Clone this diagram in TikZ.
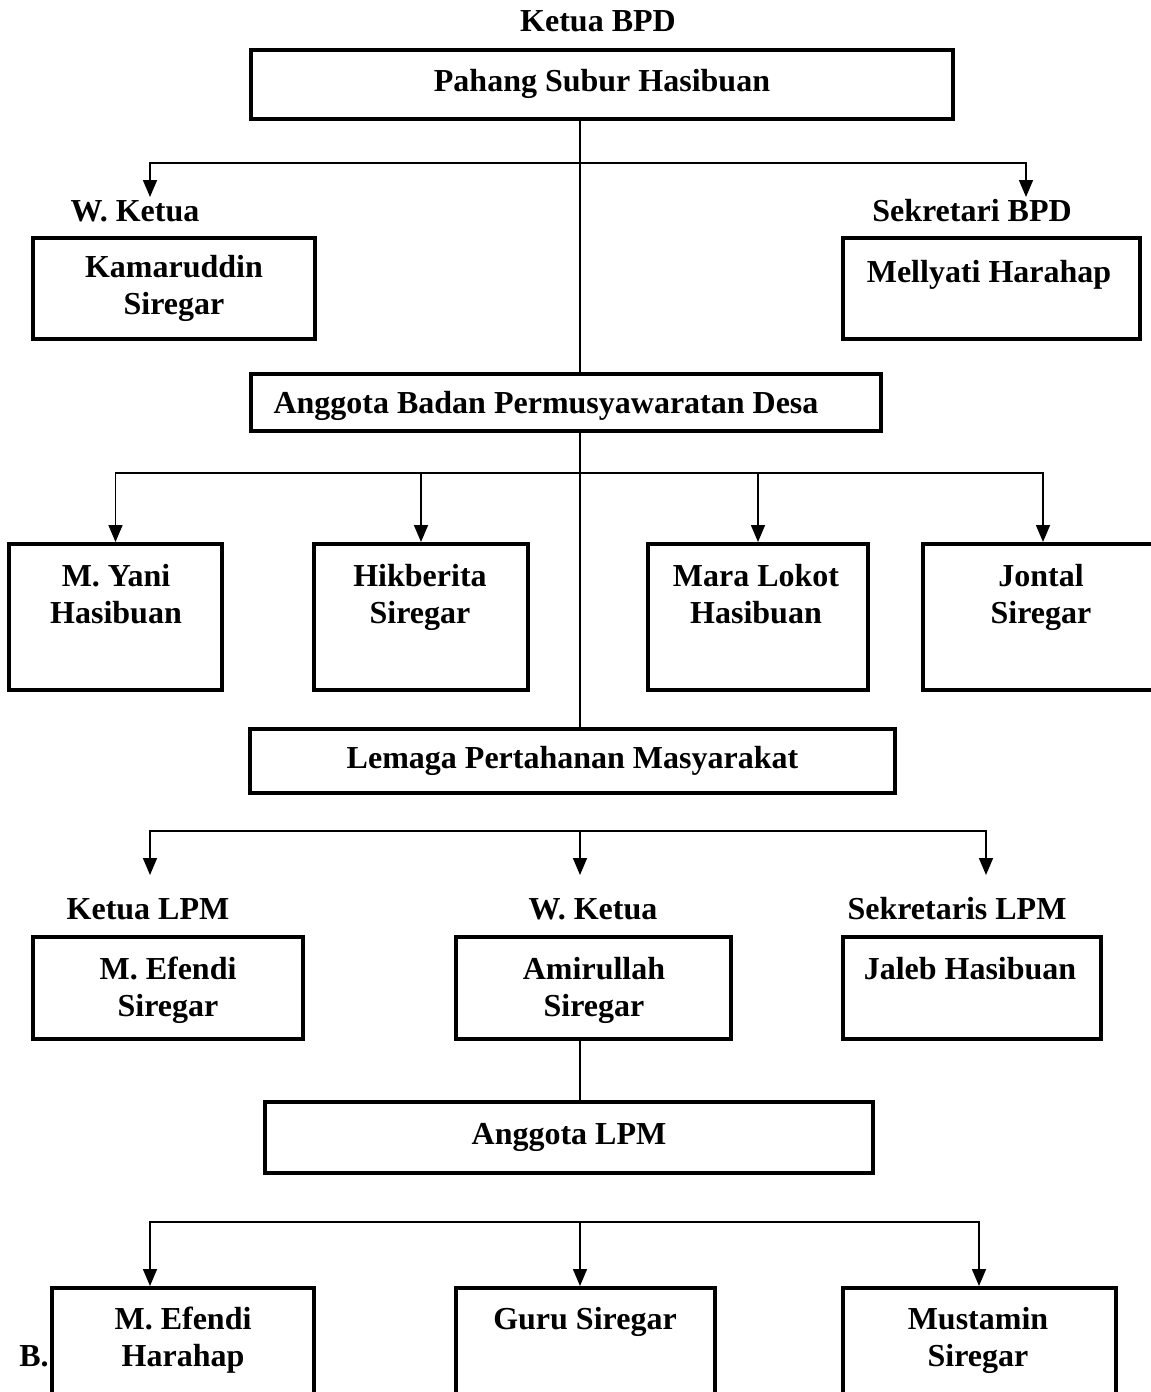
\documentclass[tikz,border=0pt]{standalone}
\usepackage{fontspec}
\setmainfont{Liberation Serif}
\usetikzlibrary{arrows.meta}

\tikzset{
  unit/.style={draw, line width=4pt, inner sep=0pt, align=center,
    font=\bfseries\fontsize{32}{37}\selectfont},
  txt/.style={inner sep=0pt, align=center,
    font=\bfseries\fontsize{32}{37}\selectfont},
  link/.style={line width=1.6pt},
  arr/.style={link, -{Triangle[length=17pt,width=14pt]}},
}

\begin{document}
\begin{tikzpicture}[x=1pt,y=-1pt]
\clip (0,0) rectangle (1151,1392);

% spine and columns
\coordinate (spine) at (580,0);
\coordinate (colA) at (150,0);
\coordinate (colD) at (979,0);

%Shape: Rectangle (Ketua BPD)
\node[unit, minimum width=702pt, minimum height=69pt] (ketua) at (602,84.5) {\strut Pahang Subur Hasibuan};
%Shape: Rectangle (W. Ketua)
\node[unit, minimum width=282pt, minimum height=101pt] (wakil) at (174,288.5) {\strut Kamaruddin\\\strut Siregar};
%Shape: Rectangle (Sekretari)
\node[unit, minimum width=297pt, minimum height=101pt] (sekre) at (991.5,288.5) {};
%Shape: Rectangle (Anggota BPD)
\node[unit, minimum width=630pt, minimum height=57pt] (bpd) at (566,402.5) {};
%Shape: Rectangle (anggota)
\node[unit, minimum width=213pt, minimum height=146pt] (yani) at (115.5,617) {};
\node[unit, minimum width=214pt, minimum height=146pt] (hik) at (421,617) {};
\node[unit, minimum width=220pt, minimum height=146pt] (mara) at (758,617) {};
\node[unit, minimum width=240pt, minimum height=146pt] (jontal) at (1043,617) {};
%Shape: Rectangle (LPM)
\node[unit, minimum width=645pt, minimum height=64pt] (lpm) at (572.5,761) {\strut Lemaga Pertahanan Masyarakat};
%Shape: Rectangle (pengurus LPM)
\node[unit, minimum width=270pt, minimum height=102pt] (efendi) at (168,988) {};
\node[unit, minimum width=275pt, minimum height=102pt] (amir) at (593.5,988) {};
\node[unit, minimum width=258pt, minimum height=102pt] (jaleb) at (972,988) {};
%Shape: Rectangle (Anggota LPM)
\node[unit, minimum width=608pt, minimum height=71pt] (alpm) at (569,1137.5) {\strut Anggota LPM};
%Shape: Rectangle (anggota LPM)
\node[unit, minimum width=262pt, minimum height=142pt] (harahap) at (183,1359) {};
\node[unit, minimum width=259pt, minimum height=142pt] (guru) at (585.5,1359) {};
\node[unit, minimum width=273pt, minimum height=142pt] (must) at (979.5,1359) {};

%Straight Lines
\draw[link] (ketua.south -| spine) -- (bpd.north -| spine);
\draw[link] (bpd.south -| spine) -- (lpm.north -| spine);
\draw[link] (amir.south -| spine) -- (alpm.north -| spine);

% fork under Ketua BPD
\coordinate (fork1) at (580,163);
\coordinate (wakilTip) at (150,197);
\coordinate (sekreTip) at (1026,197);
\draw[arr] (fork1) -| (wakilTip);
\draw[arr] (fork1) -| (sekreTip);

% fork under Anggota BPD
\coordinate (fork2) at (580,473);
\draw[arr] (fork2) -| (yani.north);
\draw[arr] (fork2) -| (hik.north);
\draw[arr] (fork2) -| (mara.north);
\draw[arr] (fork2) -| (jontal.north);

% fork under LPM
\coordinate (fork3) at (580,831);
\coordinate (ketuaTip) at (150,875);
\coordinate (amirTip) at (580,875);
\coordinate (jalebTip) at (986,875);
\draw[arr] (fork3) -| (ketuaTip);
\draw[arr] (fork3) -- (amirTip);
\draw[arr] (fork3) -| (jalebTip);

% fork under Anggota LPM
\coordinate (fork4) at (580,1222);
\draw[arr] (fork4) -| (harahap.north -| colA);
\draw[arr] (fork4) -- (guru.north -| spine);
\draw[arr] (fork4) -| (must.north -| colD);

% Text Node
\node[txt] (tKetua) at (598,24) {\strut Ketua BPD};
\node[txt] (tWakil) at (135,214) {\strut W. Ketua};
\node[txt] (tSekre) at (972,214) {\strut Sekretari BPD};
\node[txt] (nSekre) at (989,275) {\strut Mellyati Harahap};
\node[txt] (nBpd) at (546,406) {\strut Anggota Badan Permusyawaratan Desa};
\node[txt] (nYani) at (116,598) {\strut M. Yani\\\strut Hasibuan};
\node[txt] (nHik) at (420,598) {\strut Hikberita\\\strut Siregar};
\node[txt] (nMara) at (756,598) {\strut Mara Lokot\\\strut Hasibuan};
\node[txt] (nJontal) at (1041,598) {\strut Jontal\\\strut Siregar};
\node[txt] (tKetuaLpm) at (148,912) {\strut Ketua LPM};
\node[txt] (tWakilLpm) at (593,912) {\strut W. Ketua};
\node[txt] (tSekreLpm) at (957,912) {\strut Sekretaris LPM};
\node[txt] (nEfendi) at (168,991) {\strut M. Efendi\\\strut Siregar};
\node[txt] (nAmir) at (594,991) {\strut Amirullah\\\strut Siregar};
\node[txt] (nJaleb) at (970,972) {\strut Jaleb Hasibuan};
\node[txt] (nHarahap) at (183,1341) {\strut M. Efendi\\\strut Harahap};
\node[txt] (nGuru) at (585,1322) {\strut Guru Siregar};
\node[txt] (nMust) at (978,1341) {\strut Mustamin\\\strut Siregar};
\node[txt] (tB) at (34,1359) {\strut B.};
\end{tikzpicture}
\end{document}
